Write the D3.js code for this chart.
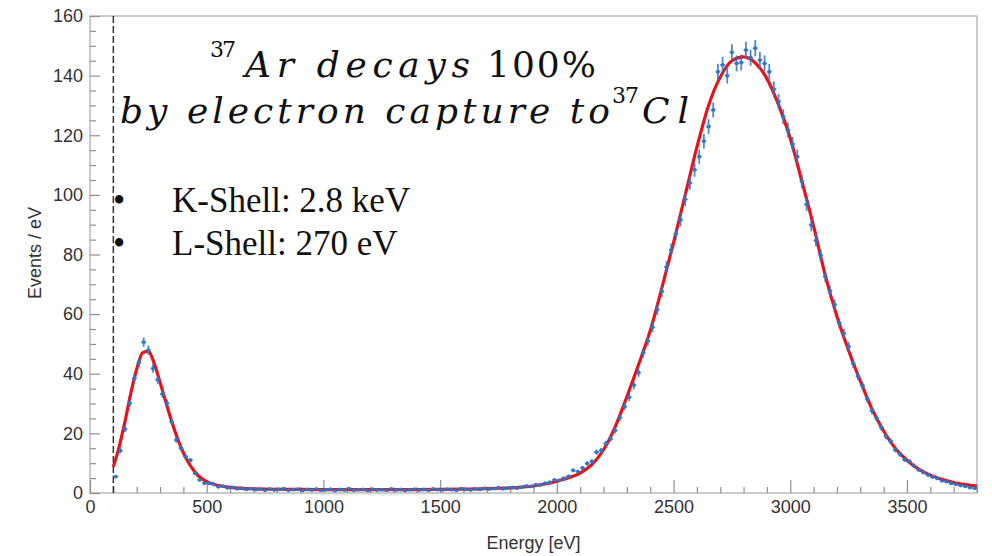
<!DOCTYPE html>
<html>
<head>
<meta charset="utf-8">
<script src="https://cdn.jsdelivr.net/npm/d3@7"></script>
<style>
  html, body { margin: 0; padding: 0; background: #fff; }
  svg { display: block; }
</style>
</head>
<body>
<svg id="chart" width="992" height="556"></svg>
<script>
// ---- Histogram: 20 eV bins, first bin starts at 100 eV ----
const binStart = 100;
const binWidth = 20;
const eventsPerEv = [
  5.5, 14.2, 21.5, 30.1, 38.5, 43.8, 50.6, 47.9, 41.8, 38.0,
  33.2, 30.1, 23.9, 17.8, 15.0, 12.2, 11.0, 6.6, 4.4, 3.3,
  3.2, 3.0, 2.1, 2.3,
  1.7, 1.9, 1.4, 1.6, 1.2, 1.5, 1.1, 1.3, 0.9, 1.4,
  1.0, 1.2, 1.5, 0.9, 1.1, 1.3, 0.8, 1.2, 1.0, 1.4,
  0.9, 1.1, 1.3, 0.8, 1.2, 1.0, 1.5, 0.9, 1.1, 1.2,
  0.8, 1.3, 1.0, 1.1, 0.9, 1.4, 1.0, 1.2, 0.8, 1.1,
  1.3, 1.0, 1.2, 0.9, 1.4, 1.1, 1.0, 1.3, 1.1, 0.9,
  1.5, 1.2, 1.0, 1.4, 1.2, 1.6, 1.3, 1.5, 1.8, 1.4,
  1.7, 1.9, 1.6,
  2.0, 2.4, 2.2, 2.8, 2.7, 3.3, 3.6, 4.4, 4.2, 5.0,
  5.6, 7.6, 7.2, 8.4, 9.9, 10.6, 13.7, 14.3, 16.6, 18.2,
  21.0, 25.3, 29.0, 32.1, 36.2, 40.4, 47.0, 51.0, 55.6, 61.5,
  67.6, 75.8, 81.6,
  86.8, 91.6, 98.5, 104.0, 108.4, 112.8, 118.0, 122.9, 128.5, 141.3,
  143.6, 140.0, 147.8, 144.1, 144.4, 148.6, 146.0, 149.2, 145.2, 144.1,
  141.3, 135.4, 131.3, 126.2, 121.8, 117.0, 112.8, 104.5, 96.8, 89.9,
  84.7, 79.8, 72.6, 67.8, 63.2, 57.0, 53.5, 49.1, 43.4, 39.2,
  36.0, 31.5, 27.6, 25.1, 22.0, 19.0, 17.4, 14.5, 13.0, 11.2,
  10.6, 9.1, 7.8, 6.9, 6.1, 5.4, 4.9, 4.1, 3.8, 3.2,
  2.9, 2.5, 2.2, 1.8, 1.6
];

// ---- Fitted spectrum (L-shell + K-shell peaks on flat background) ----
const fitEnergy = [
  100, 125, 150, 175, 200, 225, 250, 275, 300, 325, 350, 375, 400, 425, 450, 475,
  500, 550, 600, 650, 700, 800, 900, 1000, 1200, 1400, 1500, 1600, 1700, 1750,
  1800, 1850, 1900, 1950, 2000, 2050, 2100, 2150, 2200, 2250, 2300, 2350, 2400,
  2450, 2500, 2550, 2600, 2650, 2700, 2750, 2800, 2850, 2900, 2950, 3000, 3050,
  3100, 3150, 3200, 3250, 3300, 3350, 3400, 3450, 3500, 3550, 3600, 3650, 3700,
  3750, 3800
];
const fitValue = [
  8.8, 15.5, 24.0, 33.5, 41.5, 47.0, 47.6, 43.5, 37.2, 30.5, 24.0, 18.3, 13.5, 9.8, 7.0, 5.0,
  3.8, 2.5, 1.9, 1.55, 1.4, 1.25, 1.2, 1.15, 1.15, 1.15, 1.2, 1.3, 1.45, 1.6,
  1.75, 2.0, 2.35, 3.0, 3.95, 5.1, 6.7, 9.5, 14.5, 22.2, 32.3, 43.0, 54.4,
  68.8, 84.0, 100.0, 116.0, 130.0, 139.5, 145.0, 146.3, 144.3, 139.0, 130.2, 119.0, 104.5,
  89.5, 73.0, 59.2, 47.8, 37.6, 28.2, 20.8, 15.0, 11.0, 8.0, 6.0, 4.6, 3.5,
  2.8, 2.3
];

// ---- Axes ----
const xMajorTicks = [0, 500, 1000, 1500, 2000, 2500, 3000, 3500];
const yMajorTicks = [0, 20, 40, 60, 80, 100, 120, 140, 160];
const xLabel = "Energy [eV]";
const yLabel = "Events / eV";
const thresholdEnergy = 100;

// ---- Annotations ----
const shellLines = ["K-Shell: 2.8 keV", "L-Shell: 270 eV"];

const svg = d3.select("#chart");
const W = 992, H = 556;
const plot = { left: 90, right: 977, top: 16, bottom: 493 };

const x = d3.scaleLinear().domain([0, 3800]).range([plot.left, plot.right]);
const y = d3.scaleLinear().domain([0, 160]).range([plot.bottom, plot.top]);

const axisColor = "#8f8f8f";
const labelColor = "#333";
const sans = "'Liberation Sans', Arial, Helvetica, sans-serif";
const serif = "'Liberation Serif', 'Times New Roman', serif";
const mathFont = "'DejaVu Serif', 'Liberation Serif', serif";

svg.append("rect").attr("width", W).attr("height", H).attr("fill", "#fff");

// frame
svg.append("rect")
  .attr("x", plot.left).attr("y", plot.top)
  .attr("width", plot.right - plot.left).attr("height", plot.bottom - plot.top)
  .attr("fill", "none").attr("stroke", "#b0b0b0").attr("stroke-width", 1.3);

// minor ticks
const xMinor = d3.range(0, 3801, 100).filter(v => v % 500 !== 0);
const yMinor = d3.range(0, 161, 5).filter(v => v % 20 !== 0);

const gxMinor = svg.append("g").attr("transform", `translate(0,${plot.bottom})`)
  .call(d3.axisBottom(x).tickValues(xMinor).tickSize(-6).tickFormat(""));
const gyMinor = svg.append("g").attr("transform", `translate(${plot.left},0)`)
  .call(d3.axisLeft(y).tickValues(yMinor).tickSize(-6).tickFormat(""));

const gx = svg.append("g").attr("transform", `translate(0,${plot.bottom})`)
  .call(d3.axisBottom(x).tickValues(xMajorTicks).tickSize(-13).tickPadding(7).tickFormat(d3.format("d")));
const gy = svg.append("g").attr("transform", `translate(${plot.left},0)`)
  .call(d3.axisLeft(y).tickValues(yMajorTicks).tickSize(-10).tickPadding(7).tickFormat(d3.format("d")));

[gxMinor, gyMinor, gx, gy].forEach(g => {
  g.select(".domain").remove();
  g.selectAll(".tick line").attr("stroke", axisColor).attr("stroke-width", 1.2);
  g.selectAll("text")
    .attr("fill", labelColor)
    .style("font-family", sans)
    .style("font-size", "18px");
});

// axis titles
svg.append("text")
  .attr("x", (plot.left + plot.right) / 2).attr("y", 549)
  .attr("text-anchor", "middle")
  .attr("fill", labelColor)
  .style("font-family", sans).style("font-size", "18px")
  .text(xLabel);

svg.append("text")
  .attr("transform", `translate(41,${253}) rotate(-90)`)
  .attr("text-anchor", "middle")
  .attr("fill", labelColor)
  .style("font-family", sans).style("font-size", "18px")
  .text(yLabel);

// threshold marker
svg.append("line")
  .attr("x1", x(thresholdEnergy)).attr("x2", x(thresholdEnergy))
  .attr("y1", plot.top).attr("y2", plot.bottom)
  .attr("stroke", "#333").attr("stroke-width", 1.5)
  .attr("stroke-dasharray", "7,3");

// data points with error bars
const points = eventsPerEv.map((v, i) => ({
  e: binStart + binWidth * i + binWidth / 2,
  v: v,
  err: Math.sqrt(v * binWidth) / binWidth   // Poisson uncertainty per eV
}));

const blue = "#2f74c6";

// fitted curve
const fitPts = fitEnergy.map((e, i) => [e, fitValue[i]]);
const line = d3.line().x(d => x(d[0])).y(d => y(d[1])).curve(d3.curveMonotoneX);
svg.append("path")
  .datum(fitPts)
  .attr("d", line)
  .attr("fill", "none")
  .attr("stroke", "#e3141c")
  .attr("stroke-width", 3.2)
  .attr("stroke-linejoin", "round");

const gpts = svg.append("g").attr("stroke", blue).attr("stroke-opacity", 0.85);
gpts.selectAll("line.v").data(points).join("line")
  .attr("class", "v")
  .attr("x1", d => x(d.e)).attr("x2", d => x(d.e))
  .attr("y1", d => y(d.v + d.err)).attr("y2", d => y(d.v - d.err))
  .attr("stroke-width", 1.8);
gpts.selectAll("line.h").data(points).join("line")
  .attr("class", "h")
  .attr("x1", d => x(d.e - binWidth / 2)).attr("x2", d => x(d.e + binWidth / 2))
  .attr("y1", d => y(d.v)).attr("y2", d => y(d.v))
  .attr("stroke-width", 1.8);
gpts.selectAll("circle").data(points).join("circle")
  .attr("cx", d => x(d.e)).attr("cy", d => y(d.v)).attr("r", 1.9)
  .attr("fill", blue).attr("stroke", "none").attr("fill-opacity", 0.9);

// ---- Title in math style ----
const t = svg.append("g").attr("fill", "#111");
function piece(txt, px, py, size, italic, len, family) {
  const el = t.append("text")
    .attr("x", px).attr("y", py)
    .style("font-family", family || mathFont)
    .style("font-size", size + "px")
    .style("font-style", italic ? "italic" : "normal")
    .text(txt);
  if (len) el.attr("textLength", len).attr("lengthAdjust", "spacing");
  return el;
}
piece("37", 210, 57, 22, false, 26);
piece("Ar decays", 245, 77, 36, true, 225);
piece("100%", 487, 77, 36, false, 109);
piece("by electron capture to", 120, 123, 36, true, 490);
piece("37", 612, 103, 22, false, 27);
piece("Cl", 642, 123, 36, true, 47);

// ---- Shell energies list ----
const lst = svg.append("g").attr("fill", "#111").style("font-family", serif);
shellLines.forEach((s, i) => {
  const by = 212 + i * 43;
  lst.append("text").attr("x", 113).attr("y", by).style("font-size", "35px").text("\u2022");
  lst.append("text").attr("x", 172).attr("y", by).style("font-size", "35px").text(s);
});
</script>
</body>
</html>
